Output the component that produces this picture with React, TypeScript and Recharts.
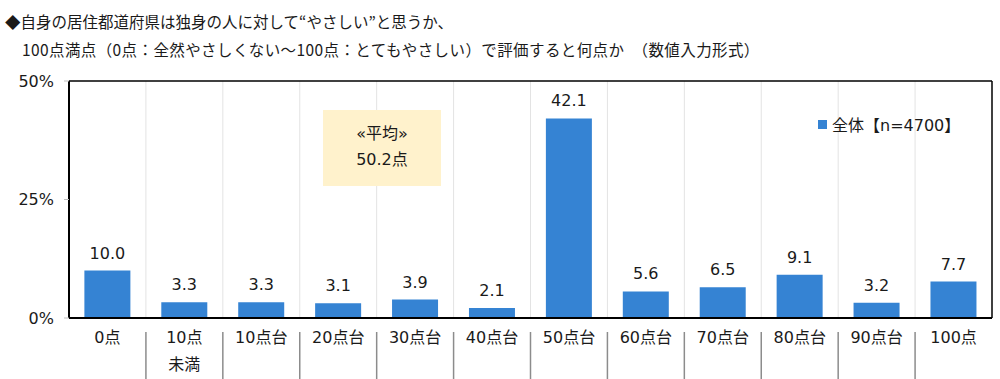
import React from 'react';
import { BarChart, Bar, XAxis, YAxis, CartesianGrid, LabelList } from 'recharts';

const categories = ['0点', '10点\n未満', '10点台', '20点台', '30点台', '40点台', '50点台', '60点台', '70点台', '80点台', '90点台', '100点'];
const values = [10.0, 3.3, 3.3, 3.1, 3.9, 2.1, 42.1, 5.6, 6.5, 9.1, 3.2, 7.7];
const yTicks = [0, 25, 50];
const titleLines = [
  '◆自身の居住都道府県は独身の人に対して“やさしい”と思うか、',
  '100点満点（0点：全然やさしくない～100点：とてもやさしい）で評価すると何点か　（数値入力形式）',
];
const legendLabel = '全体【n=4700】';
const averageLines = ['«平均»', '50.2点'];

const data = categories.map((name, i) => ({ name, value: values[i] }));

const FONT = '"DejaVu Sans", "Noto Sans CJK JP", sans-serif';
const JP_FONT = '"Noto Sans CJK JP", sans-serif';
const BLUE = '#3583D3';

const CategoryTick = (props: any) => {
  const { x, y, payload, index, visibleTicksCount } = props;
  const half = payload && payload.offset ? payload.offset : 38.5;
  const lines = String(payload.value).split('\n');
  const isLast = index === (visibleTicksCount ?? categories.length) - 1;
  return (
    <g>
      {!isLast && (
        <line x1={x + half} x2={x + half} y1={y + 6} y2={y + 62} stroke="#8c8c8c" strokeWidth={1.5} />
      )}
      {lines.map((ln: string, i: number) => (
        <text
          key={i}
          x={x}
          y={y + 17 + i * 27}
          textAnchor="middle"
          fontSize={16}
          fontFamily={FONT}
          fill="#1a1a1a"
        >
          {ln}
        </text>
      ))}
    </g>
  );
};

const App: React.FC = () => {
  return (
    <div style={{ position: 'absolute', left: 0, top: 0, width: 1000, height: 379, background: '#fff', fontFamily: JP_FONT }}>
      <div style={{ position: 'absolute', left: 5, top: 7, fontSize: 15.5, color: '#1a1a1a', lineHeight: '28px', whiteSpace: 'nowrap' }}>
        <div>{titleLines[0]}</div>
        <div style={{ paddingLeft: 17, letterSpacing: 0.4 }}>{titleLines[1]}</div>
      </div>

      <div style={{ position: 'absolute', left: 0, top: 0 }}>
        <BarChart width={1000} height={379} data={data} margin={{ top: 81, right: 7, bottom: 0, left: 0 }} barCategoryGap="20%">
          <CartesianGrid
            horizontal={false}
            stroke="#e3e3e3"
            verticalCoordinatesGenerator={({ offset }: any) =>
              categories.slice(1).map((_, i) => offset.left + ((i + 1) * offset.width) / categories.length)
            }
          />
          <CartesianGrid
            vertical={false}
            stroke="#000"
            strokeWidth={1.5}
            horizontalCoordinatesGenerator={({ offset }: any) => [offset.top]}
          />
          <XAxis
            dataKey="name"
            interval={0}
            axisLine={{ stroke: '#000', strokeWidth: 2 }}
            tickLine={false}
            tick={<CategoryTick />}
            height={61}
          />
          <YAxis
            width={69}
            domain={[0, 50]}
            ticks={yTicks}
            tickFormatter={(v: number) => `${v}%`}
            axisLine={{ stroke: '#000', strokeWidth: 2 }}
            tickLine={{ stroke: '#bdbdbd' }}
            tickSize={5}
            tick={{ fontSize: 16, fill: '#1a1a1a', fontFamily: FONT, dx: -8 }}
          />
          <YAxis
            yAxisId="frame"
            orientation="right"
            width={1}
            domain={[0, 50]}
            tick={false}
            tickLine={false}
            axisLine={{ stroke: '#000', strokeWidth: 1.5 }}
          />
          <Bar dataKey="value" fill={BLUE} isAnimationActive={false}>
            <LabelList
              dataKey="value"
              position="top"
              offset={12}
              formatter={(v: any) => Number(v).toFixed(1)}
              style={{ fontSize: 16, fill: '#1a1a1a', fontFamily: FONT }}
            />
          </Bar>
        </BarChart>
      </div>

      <div
        style={{
          position: 'absolute',
          left: 323,
          top: 110,
          width: 118,
          height: 76,
          background: '#FFF2CC',
          textAlign: 'center',
          fontSize: 16,
          color: '#1a1a1a',
          lineHeight: '26px',
          paddingTop: 11,
          boxSizing: 'border-box',
          fontFamily: FONT,
        }}
      >
        <div>{averageLines[0]}</div>
        <div>{averageLines[1]}</div>
      </div>

      <div style={{ position: 'absolute', left: 818, top: 112, display: 'flex', alignItems: 'center', fontSize: 16, color: '#1a1a1a', fontFamily: FONT }}>
        <span style={{ display: 'inline-block', width: 9, height: 9, background: BLUE, marginRight: 5 }} />
        <span>{legendLabel}</span>
      </div>
    </div>
  );
};

export default App;
